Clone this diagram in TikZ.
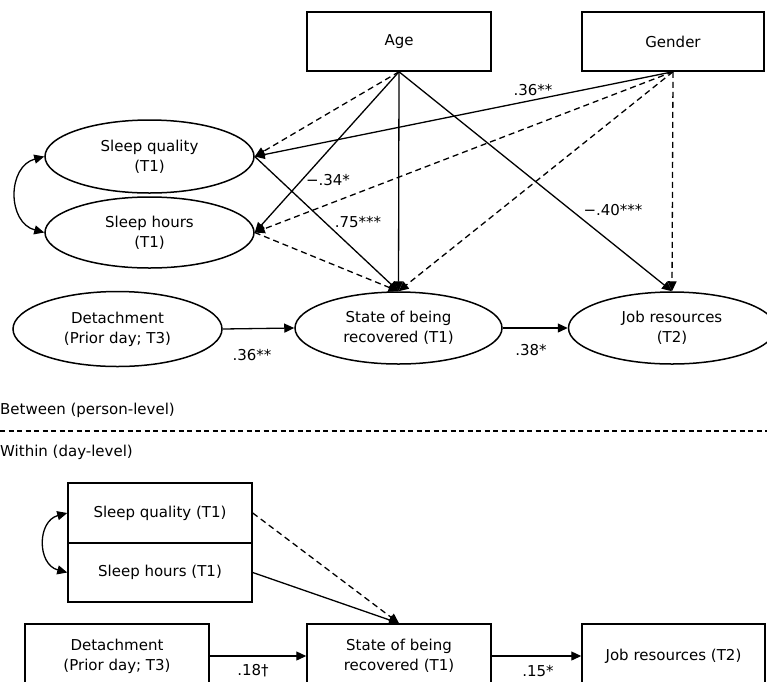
\documentclass[tikz,border=0pt]{standalone}
\usepackage{fontspec}
\setmainfont{DejaVu Sans}
\usetikzlibrary{shapes.geometric,arrows.meta}

\begin{document}
\begin{tikzpicture}[x=1pt, y=-1pt, >={Triangle[length=10pt,width=9pt]},
    font=\fontsize{15}{20}\selectfont,
    latent/.style={draw, ellipse, line width=1.5pt, minimum width=209pt, minimum height=73pt, align=center, inner sep=0pt},
    obs/.style={draw, rectangle, line width=1.5pt, minimum width=184pt, align=center},
    eff/.style={->, line width=1.3pt},
    noeff/.style={->, line width=1.3pt, dash pattern=on 6pt off 4pt},
    coef/.style={inner sep=1pt}]
\useasboundingbox (0,0) rectangle (767,681);
\clip (0,0) rectangle (767,681);

% between (person-level)
\node[obs, minimum height=59pt] (age) at (399,41.5) {Age};
\node[obs, minimum height=59pt, minimum width=182pt] (gender) at (673,41.5) {Gender};
\node[latent] (sq) at (149.5,156.5) {Sleep quality\\(T1)};
\node[latent, minimum height=71pt] (sh) at (149.5,232.5) {Sleep hours\\(T1)};
\node[latent, minimum height=75pt] (det) at (117.5,329) {Detachment\\(Prior day; T3)};
\node[latent, minimum width=207pt, minimum height=72pt] (state) at (398.5,328) {State of being\\recovered (T1)};
\node[latent, minimum width=207pt, minimum height=72pt] (job) at (672,328) {Job resources\\(T2)};

\draw[noeff] (age.south) -- (sq.east);
\draw[eff] (age.south) -- (sh.east);
\draw[eff] (age.south) -- (state.north);
\draw[eff] (age.south) -- (job.north);
\draw[eff] (gender.south) -- (sq.east);
\draw[noeff] (gender.south) -- (sh.east);
\draw[noeff] (gender.south) -- (state.north);
\draw[noeff] (gender.south) -- (job.north);
\draw[eff] (sq.east) -- (state.north);
\draw[noeff] (sh.east) -- (state.north);
\draw[<->, line width=1.3pt] (sq.west) to[bend right=75, looseness=1.3] (sh.west);
\draw[eff] (det.east) -- (state.west);
\draw[eff] (state.east) -- (job.west);

\node[coef] (c1) at (533,90) {.36**};
\node[coef] (c2) at (328,180) {−.34*};
\node[coef] (c3) at (358,222) {.75***};
\node[coef] (c4) at (613,210) {−.40***};
\node[coef] (c5) at (252,355) {.36**};
\node[coef] (c6) at (531,350) {.38*};

% levels
\draw[line width=1.2pt, dash pattern=on 5pt off 3.5pt] (0,431) -- (767,431);
\node[anchor=west, inner sep=0pt] (between) at (0,410) {Between (person-level)};
\node[anchor=west, inner sep=0pt] (within) at (0,452) {Within (day-level)};

% within (day-level)
\node[obs, minimum height=60pt] (sqb) at (160,513) {Sleep quality (T1)};
\node[obs, minimum height=59pt] (shb) at (160,572.5) {Sleep hours (T1)};
\node[obs, minimum height=64pt] (detb) at (117,656) {Detachment\\(Prior day; T3)};
\node[obs, minimum height=64pt] (stateb) at (399,656) {State of being\\recovered (T1)};
\node[obs, minimum height=64pt, minimum width=183pt] (jobb) at (673.5,656) {Job resources (T2)};

\draw[noeff] (sqb.east) -- (stateb.north);
\draw[eff] (shb.east) -- (stateb.north);
\draw[<->, line width=1.3pt] (sqb.west) to[bend right=75, looseness=1.35] (shb.west);
\draw[eff] (detb.east) -- (stateb.west);
\draw[eff] (stateb.east) -- (jobb.west);

\node[coef] (c7) at (253,671) {.18†};
\node[coef] (c8) at (538,671) {.15*};
\end{tikzpicture}
\end{document}
